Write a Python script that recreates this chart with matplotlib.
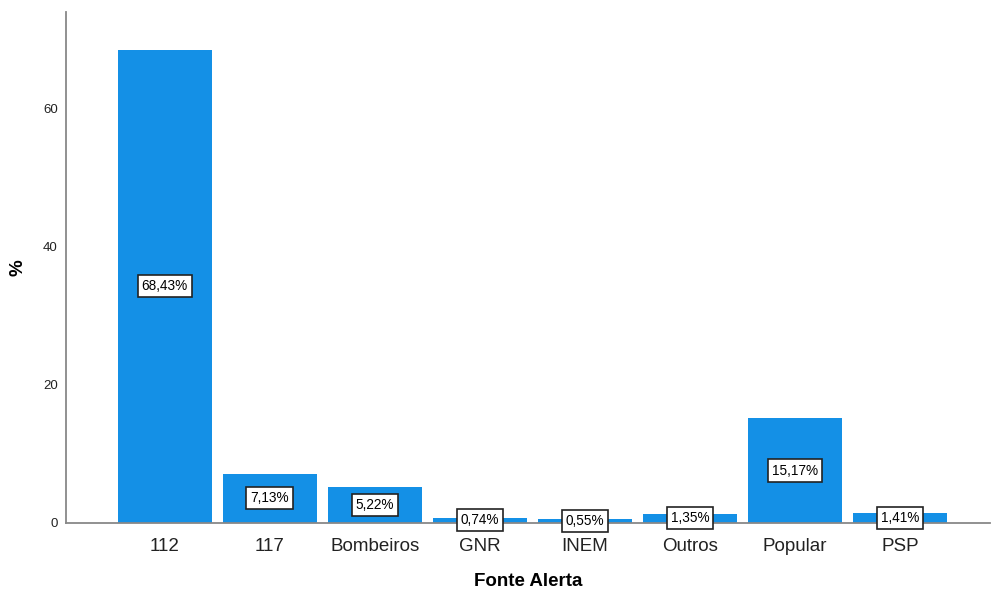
import matplotlib.pyplot as plt

plt.rcParams['font.family'] = ['Liberation Sans', 'DejaVu Sans']

categories = ["112", "117", "Bombeiros", "GNR", "INEM", "Outros", "Popular", "PSP"]
values = [68.43, 7.13, 5.22, 0.74, 0.55, 1.35, 15.17, 1.41]
labels = ["68,43%", "7,13%", "5,22%", "0,74%", "0,55%", "1,35%", "15,17%", "1,41%"]
yticks = [0, 20, 40, 60]

fig = plt.figure(figsize=(9.91, 5.92), dpi=100)
ax = fig.add_axes([0.0666, 0.1166, 0.9324, 0.8631])

x = range(len(categories))
ax.bar(x, values, width=0.895, color="#1490e6", zorder=2)

for xi, v, lab in zip(x, values, labels):
    ax.text(xi, v / 2, lab, ha="center", va="center", fontsize=9.8, zorder=3,
            bbox=dict(boxstyle="square,pad=0.3", facecolor="white",
                      edgecolor="#222222", linewidth=1.2))

ax.set_xlim(-0.94, 7.855)
ax.set_ylim(0, 73.9)
ax.set_xticks(list(x))
ax.set_xticklabels(categories, fontsize=13.5, color="#222222")
ax.set_yticks(yticks)
ax.set_yticklabels([str(t) for t in yticks], fontsize=9.5, color="#222222")
ax.tick_params(axis="x", length=0, pad=11)
ax.tick_params(axis="y", length=0, pad=6)

for side in ["top", "right"]:
    ax.spines[side].set_visible(False)
for side in ["left", "bottom"]:
    ax.spines[side].set_color("#888888")
    ax.spines[side].set_linewidth(1.3)

ax.set_xlabel("Fonte Alerta", fontsize=13.5, fontweight="bold", labelpad=13)
ax.set_ylabel("%", fontsize=13.5, fontweight="bold", labelpad=12)

fig.savefig("out.png", dpi=100)
